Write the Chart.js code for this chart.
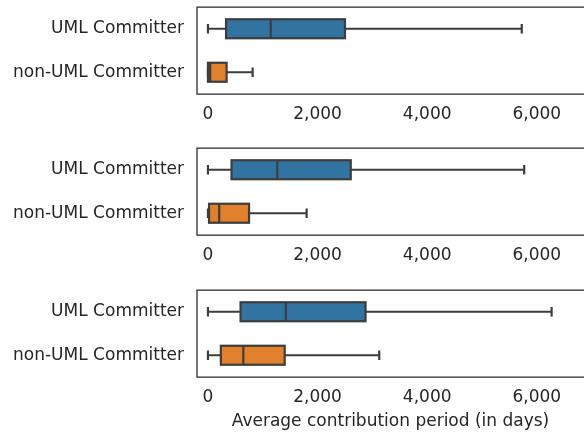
<!DOCTYPE html>
<html lang="en">
<head>
<meta charset="UTF-8">
<script src="https://cdn.jsdelivr.net/npm/chart.js"></script>
<style>
  body { margin: 0; background: #fff; }
  .panel { position: absolute; left: 0; width: 584px; }
</style>
</head>
<body>
<div class="panel" style="top:0px;height:135px"><canvas id="c1"></canvas></div>
<div class="panel" style="top:141px;height:135px"><canvas id="c2"></canvas></div>
<div class="panel" style="top:283px;height:154px"><canvas id="c3"></canvas></div>
<script>
const categories = ['UML Committer', 'non-UML Committer'];
const xTicks = [0, 2000, 4000, 6000];
const axisTitle = 'Average contribution period (in days)';

// panel 1
const p1Min = [0, 0];
const p1Q1 = [330, 0];
const p1Median = [1145, 40];
const p1Q3 = [2500, 340];
const p1Max = [5725, 815];
// panel 2
const p2Min = [0, 0];
const p2Q1 = [430, 20];
const p2Median = [1265, 205];
const p2Q3 = [2605, 750];
const p2Max = [5770, 1800];
// panel 3
const p3Min = [0, 0];
const p3Q1 = [595, 235];
const p3Median = [1420, 645];
const p3Q3 = [2875, 1400];
const p3Max = [6270, 3125];

const boxColors = ['#3274a1', '#e1812c'];
const lineColor = '#3d3d3d';
const textColor = '#262626';
const font = { family: 'DejaVu Sans', size: 17 };

const boxPlugin = {
    id: 'boxes',
    afterDatasetsDraw(chart) {
        const ctx = chart.ctx;
        const x = chart.scales.x, y = chart.scales.y;
        const s = chart.options.plugins.boxes;
        const meta = chart.getDatasetMeta(0);
        ctx.save();
        ctx.strokeStyle = lineColor;
        ctx.lineWidth = 2.2;
        ctx.lineCap = 'butt';
        categories.forEach((c, i) => {
            const yc = y.getPixelForValue(i);
            const h = meta.data[i].height;
            const xl = x.getPixelForValue(s.min[i]);
            const x1 = x.getPixelForValue(s.q1[i]);
            const xm = x.getPixelForValue(s.median[i]);
            const x3 = x.getPixelForValue(s.q3[i]);
            const xh = x.getPixelForValue(s.max[i]);
            ctx.beginPath();
            ctx.moveTo(xl, yc); ctx.lineTo(x1, yc);
            ctx.moveTo(x3, yc); ctx.lineTo(xh, yc);
            ctx.moveTo(xl, yc - h / 4); ctx.lineTo(xl, yc + h / 4);
            ctx.moveTo(xh, yc - h / 4); ctx.lineTo(xh, yc + h / 4);
            ctx.stroke();
            ctx.strokeRect(x1, yc - h / 2, x3 - x1, h);
            ctx.beginPath();
            ctx.moveTo(xm, yc - h / 2); ctx.lineTo(xm, yc + h / 2);
            ctx.stroke();
        });
        // frame (right side falls off the canvas)
        const a = chart.chartArea;
        ctx.strokeStyle = textColor;
        ctx.lineWidth = 1.25;
        ctx.beginPath();
        ctx.moveTo(a.right + 2, a.top); ctx.lineTo(a.left, a.top);
        ctx.lineTo(a.left, a.bottom); ctx.lineTo(a.right + 2, a.bottom);
        ctx.stroke();
        ctx.restore();
    }
};

function makePanel(id, mins, q1s, medians, q3s, maxs, axisH, showTitle) {
    new Chart(document.getElementById(id), {
        type: 'bar',
        data: {
            labels: categories,
            datasets: [{
                data: q1s.map((v, i) => [v, q3s[i]]),
                backgroundColor: boxColors,
                borderWidth: 0,
                barThickness: 19
            }]
        },
        options: {
            indexAxis: 'y',
            responsive: true,
            maintainAspectRatio: false,
            animation: false,
            layout: { padding: { top: 7, right: 0, left: 0, bottom: 0 } },
            plugins: {
                legend: { display: false },
                tooltip: { enabled: false },
                boxes: { min: mins, q1: q1s, median: medians, q3: q3s, max: maxs }
            },
            scales: {
                x: {
                    min: -200,
                    max: 6861,
                    grid: { display: false, drawTicks: false },
                    border: { display: false },
                    afterBuildTicks: sc => { sc.ticks = xTicks.map(v => ({ value: v })); },
                    afterFit: sc => { sc.height = axisH; sc.paddingLeft = 0; sc.paddingRight = 0; },
                    ticks: {
                        padding: 10,
                        color: textColor,
                        font: font,
                        maxRotation: 0,
                        autoSkip: false,
                        callback: v => v.toLocaleString('en-US')
                    },
                    title: {
                        display: showTitle,
                        text: axisTitle,
                        color: textColor,
                        font: font,
                        padding: { top: 0, bottom: 5 }
                    }
                },
                y: {
                    grid: { display: false, drawTicks: false },
                    border: { display: false },
                    afterFit: sc => { sc.width = 197; sc.paddingTop = 0; sc.paddingBottom = 0; },
                    ticks: { padding: 13, color: textColor, font: font }
                }
            }
        },
        plugins: [boxPlugin]
    });
}

makePanel('c1', p1Min, p1Q1, p1Median, p1Q3, p1Max, 41, false);
makePanel('c2', p2Min, p2Q1, p2Median, p2Q3, p2Max, 41, false);
makePanel('c3', p3Min, p3Q1, p3Median, p3Q3, p3Max, 60, true);
</script>
</body>
</html>
